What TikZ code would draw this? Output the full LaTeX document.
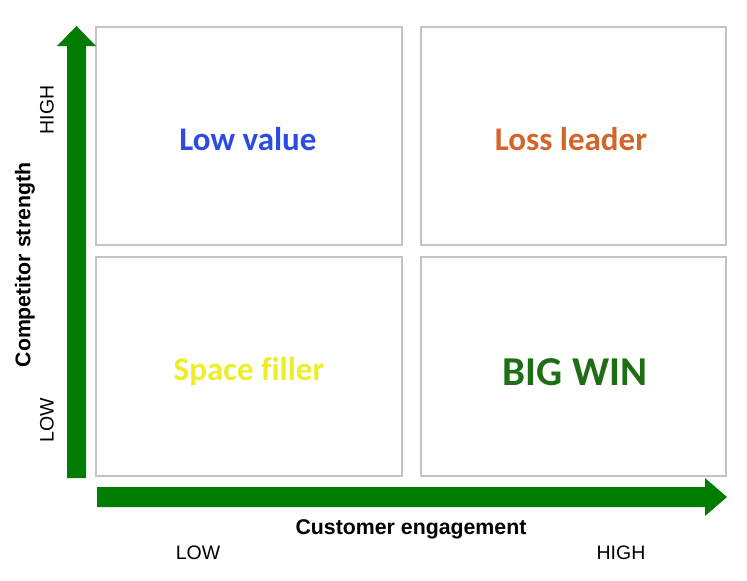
\documentclass[tikz,border=0pt]{standalone}
\usepackage{fontspec}
\setmainfont{Liberation Sans}
\newfontfamily\quadfont[Ligatures=NoCommon]{Carlito}
\definecolor{arrowgreen}{RGB}{0,125,0}
\definecolor{boxgray}{RGB}{195,195,195}
\definecolor{lowblue}{RGB}{45,75,225}
\definecolor{lossorange}{RGB}{212,100,40}
\definecolor{spaceyellow}{RGB}{238,238,40}
\definecolor{wingreen}{RGB}{30,110,20}
\tikzset{
  quadbox/.style={draw=boxgray, line width=1.4pt, fill=white},
  quadlabel/.style={font=\quadfont\bfseries\fontsize{33}{33}\selectfont, inner sep=0pt},
  axislabel/.style={font=\bfseries\fontsize{21.3}{21.3}\selectfont, inner sep=0pt},
  levellabel/.style={font=\fontsize{19.5}{19.5}\selectfont, inner sep=0pt},
  bigarrow/.style={fill=arrowgreen, draw=none}
}
\begin{document}
\begin{tikzpicture}[x=1pt,y=-1pt]
\useasboundingbox (0,0) rectangle (747,581);
% quadrants
\draw[quadbox] (96,27) rectangle (402,245);
\draw[quadbox] (421,27) rectangle (726,245);
\draw[quadbox] (96,257) rectangle (402,476);
\draw[quadbox] (421,257) rectangle (726,476);
% arrows
\fill[bigarrow] (67,478) -- (67,46) -- (57,46) -- (76.5,26) -- (96,46) -- (86,46) -- (86,478) -- cycle;
\fill[bigarrow] (97,487) -- (705,487) -- (705,478) -- (727,497) -- (705,516) -- (705,507) -- (97,507) -- cycle;
% quadrant labels
\node[quadlabel, text=lowblue] (lowvalue) at (248,139) {Low value};
\node[quadlabel, text=lossorange] (lossleader) at (571,139) {Loss leader};
\node[quadlabel, text=spaceyellow] (spacefiller) at (249,372) {Space filler};
\node[quadlabel, text=wingreen, font=\quadfont\bfseries\fontsize{41}{41}\selectfont] (bigwin) at (575,372) {BIG WIN};
% axis labels
\node[axislabel] (xaxis) at (411,529) {Customer engagement};
\node[levellabel] (xlow) at (198,553) {LOW};
\node[levellabel] (xhigh) at (621,553) {HIGH};
\node[axislabel, rotate=90] (yaxis) at (25,265) {Competitor strength};
\node[levellabel, rotate=90] (yhigh) at (47,110) {HIGH};
\node[levellabel, rotate=90] (ylow) at (47,420) {LOW};
\end{tikzpicture}
\end{document}
